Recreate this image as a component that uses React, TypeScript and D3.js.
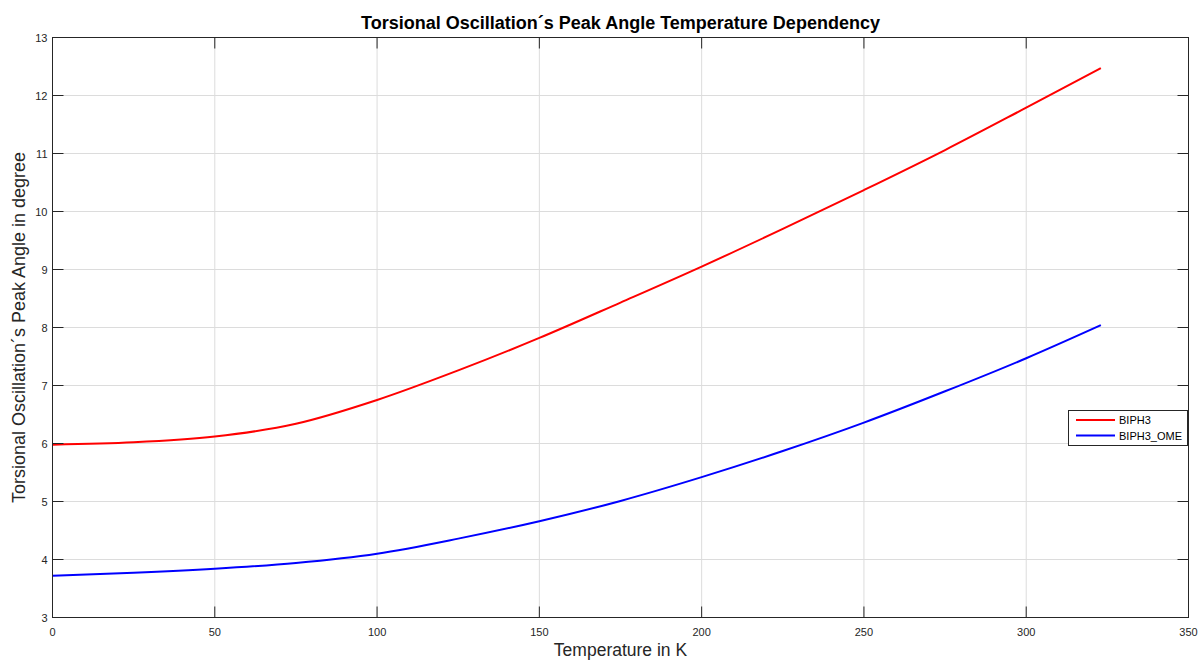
import React from "react";
import * as d3 from "d3";

const temperatures = [0, 25, 50, 75, 100, 125, 150, 175, 200, 225, 250, 275, 300, 323];
const biph3 = [5.98, 6.02, 6.12, 6.34, 6.75, 7.26, 7.82, 8.43, 9.05, 9.7, 10.37, 11.06, 11.79, 12.47];
const biph3Ome = [3.72, 3.77, 3.84, 3.94, 4.1, 4.36, 4.66, 5.01, 5.42, 5.87, 6.36, 6.9, 7.47, 8.04];
const xTicks = [0, 50, 100, 150, 200, 250, 300, 350];
const yTicks = [3, 4, 5, 6, 7, 8, 9, 10, 11, 12, 13];
const seriesNames = ["BIPH3", "BIPH3_OME"];
const seriesColors = ["#ff0000", "#0000ff"];

const W = 1200;
const H = 661;
const left = 52.5;
const right = 1188.5;
const top = 37.5;
const bottom = 617.5;
const FONT = "'Liberation Sans', Arial, Helvetica, sans-serif";
const AX = "#262626";

export default function App() {
  const x = d3.scaleLinear().domain([0, 350]).range([left, right]);
  const y = d3.scaleLinear().domain([3, 13]).range([bottom, top]);
  const line = d3
    .line<number>()
    .x((_, i) => x(temperatures[i]))
    .y((d) => y(d))
    .curve(d3.curveMonotoneX);
  const series = [biph3, biph3Ome];
  const tickLen = 11;

  return (
    <svg
      width={W}
      height={H}
      style={{ position: "absolute", left: 0, top: 0, background: "#fff" }}
      fontFamily={FONT}
    >
      <rect x={0} y={0} width={W} height={H} fill="#fff" />
      {/* grid */}
      {xTicks.slice(1, -1).map((t) => (
        <line key={"gx" + t} x1={x(t)} x2={x(t)} y1={top} y2={bottom} stroke="#dcdcdc" strokeWidth={1} />
      ))}
      {yTicks.slice(1, -1).map((t) => (
        <line key={"gy" + t} x1={left} x2={right} y1={y(t)} y2={y(t)} stroke="#dcdcdc" strokeWidth={1} />
      ))}
      {/* series */}
      {series.map((s, i) => (
        <path key={seriesNames[i]} d={line(s) || ""} fill="none" stroke={seriesColors[i]} strokeWidth={2} />
      ))}
      {/* axes box and ticks */}
      <rect x={left} y={top} width={right - left} height={bottom - top} fill="none" stroke={AX} strokeWidth={1} />
      {xTicks.map((t) => (
        <g key={"tx" + t}>
          <line x1={x(t)} x2={x(t)} y1={bottom} y2={bottom - tickLen} stroke={AX} />
          <line x1={x(t)} x2={x(t)} y1={top} y2={top + tickLen} stroke={AX} />
          <text x={x(t)} y={bottom + 18} textAnchor="middle" fontSize={11} fill={AX}>
            {t}
          </text>
        </g>
      ))}
      {yTicks.map((t) => (
        <g key={"ty" + t}>
          <line x1={left} x2={left + tickLen} y1={y(t)} y2={y(t)} stroke={AX} />
          <line x1={right} x2={right - tickLen} y1={y(t)} y2={y(t)} stroke={AX} />
          <text x={left - 5} y={y(t) + 4} textAnchor="end" fontSize={11} fill={AX}>
            {t}
          </text>
        </g>
      ))}
      {/* labels */}
      <text x={(left + right) / 2} y={28.5} textAnchor="middle" fontSize={18} fontWeight="bold" fill="#000">
        Torsional Oscillation´s Peak Angle Temperature Dependency
      </text>
      <text x={(left + right) / 2} y={656} textAnchor="middle" fontSize={17.5} fill={AX}>
        Temperature in K
      </text>
      <text
        transform={`translate(25,${(top + bottom) / 2}) rotate(-90)`}
        textAnchor="middle"
        fontSize={18}
        fill={AX}
      >
        Torsional Oscillation´s Peak Angle in degree
      </text>
      {/* legend */}
      <g>
        <rect x={1068.5} y={410.5} width={119} height={35} fill="#fff" stroke={AX} strokeWidth={1} />
        {seriesNames.map((n, i) => (
          <g key={"lg" + n}>
            <line x1={1076} x2={1115} y1={420 + i * 15.5} y2={420 + i * 15.5} stroke={seriesColors[i]} strokeWidth={2} />
            <text x={1119} y={424 + i * 15.5} fontSize={11} fill="#000">
              {n}
            </text>
          </g>
        ))}
      </g>
    </svg>
  );
}
